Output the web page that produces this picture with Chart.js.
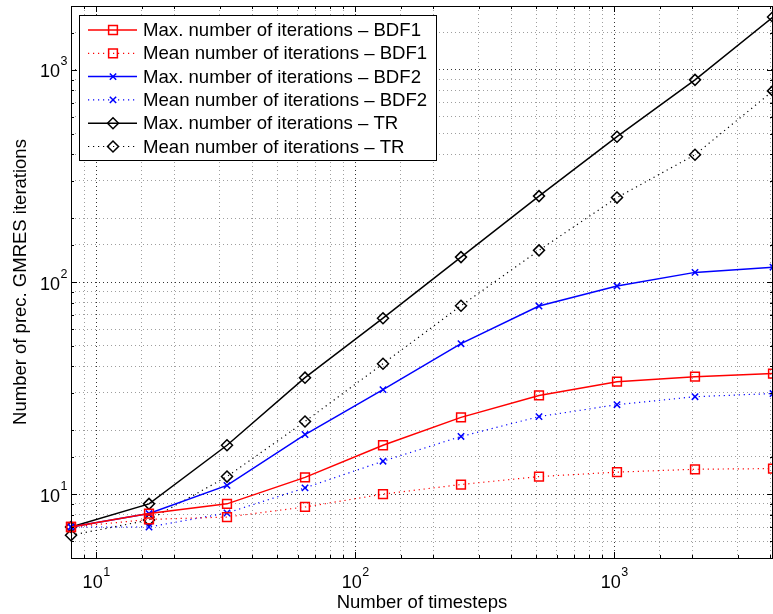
<!DOCTYPE html>
<html>
<head>
<meta charset="utf-8">
<script src="https://cdn.jsdelivr.net/npm/chart.js@4.4.0/dist/chart.umd.min.js"></script>
<style>
  html, body { margin: 0; padding: 0; background: #fff; }
  #wrap { width: 773px; height: 614px; position: relative; }
</style>
</head>
<body>
<div id="wrap"><canvas id="c"></canvas></div>
<script>
/* ── data ─────────────────────────────────────── */
const timesteps = [8, 16, 32, 64, 128, 256, 512, 1024, 2048, 4096];
const bdf1Max  = [7, 8.1, 9, 12, 17, 23, 29.2, 33.9, 35.8, 37];
const bdf1Mean = [7, 7.6, 7.8, 8.7, 10, 11.1, 12.1, 12.7, 13.1, 13.2];
const bdf2Max  = [7, 8.1, 11, 19.1, 31.1, 51.2, 77, 95.7, 111, 117.5];
const bdf2Mean = [7, 7, 8.15, 10.7, 14.3, 18.7, 23.2, 26.4, 28.8, 29.8];
const trMax    = [7, 9, 17, 35.4, 67.5, 131, 254, 484, 897, 1774];
const trMean   = [6.4, 7.55, 12.1, 22, 41.2, 77.3, 141, 250, 398, 796];

const seriesLabels = [
  'Max. number of iterations \u2013 BDF1',
  'Mean number of iterations \u2013 BDF1',
  'Max. number of iterations \u2013 BDF2',
  'Mean number of iterations \u2013 BDF2',
  'Max. number of iterations \u2013 TR',
  'Mean number of iterations \u2013 TR'
];
const tickBase = '10';
const xTitle = 'Number of timesteps';
const yTitle = 'Number of prec. GMRES iterations';

/* ── helpers ──────────────────────────────────── */
const FONT = '"Liberation Sans", Arial, Helvetica, sans-serif';
const isPow10 = v => Math.abs(Math.log10(v) - Math.round(Math.log10(v))) < 1e-9;
const pts = ys => timesteps.map((x, i) => ({ x, y: ys[i] }));

function series(label, ys, color, dotted, style, radius) {
  return {
    label, data: pts(ys),
    borderColor: color, backgroundColor: 'transparent',
    borderWidth: dotted ? 1.2 : 1.5, borderDash: dotted ? [1.2, 3.8] : [],
    showLine: true, tension: 0, clip: false,
    pointStyle: style, pointRadius: radius, pointHoverRadius: radius,
    pointBorderColor: color, pointBackgroundColor: 'transparent', pointBorderWidth: 1.5
  };
}

// "10" with a raised exponent; x = right end (y axis) or centre (x axis)
function powerLabel(ctx, exp, x, baseY, align) {
  ctx.font = '18px ' + FONT;
  const wBase = ctx.measureText(tickBase).width;
  ctx.font = '12.5px ' + FONT;
  const wExp = ctx.measureText(exp).width;
  const left = align === 'right' ? x - wBase - wExp : x - (wBase + wExp) / 2;
  ctx.textAlign = 'left';
  ctx.textBaseline = 'alphabetic';
  ctx.font = '18px ' + FONT;
  ctx.fillText(tickBase, left, baseY);
  ctx.font = '12.5px ' + FONT;
  ctx.fillText(exp, left + wBase + 0.5, baseY - 12);
}

/* inside ticks, full box and tick labels, like the matlab axes */
const boxPlugin = {
  id: 'box',
  afterDatasetsDraw(chart) {
    const { ctx, chartArea: a, scales: { x, y } } = chart;
    ctx.save();
    ctx.strokeStyle = '#000';
    ctx.lineWidth = 1;
    ctx.setLineDash([]);
    ctx.beginPath();
    x.ticks.forEach(t => {
      const px = Math.round(x.getPixelForValue(t.value)) + 0.5;
      const len = isPow10(t.value) ? 6 : 3;
      ctx.moveTo(px, a.bottom); ctx.lineTo(px, a.bottom - len);
      ctx.moveTo(px, a.top);    ctx.lineTo(px, a.top + len);
    });
    y.ticks.forEach(t => {
      const py = Math.round(y.getPixelForValue(t.value)) + 0.5;
      const len = isPow10(t.value) ? 6 : 3;
      ctx.moveTo(a.left, py);  ctx.lineTo(a.left + len, py);
      ctx.moveTo(a.right, py); ctx.lineTo(a.right - len, py);
    });
    ctx.stroke();
    ctx.strokeRect(Math.round(a.left) + 0.5, Math.round(a.top) + 0.5,
                   Math.round(a.right - a.left) - 1, Math.round(a.bottom - a.top));

    ctx.fillStyle = '#000';
    x.ticks.filter(t => isPow10(t.value)).forEach(t => {
      const exp = String(Math.round(Math.log10(t.value)));
      powerLabel(ctx, exp, x.getPixelForValue(t.value), a.bottom + 30, 'center');
    });
    y.ticks.filter(t => isPow10(t.value)).forEach(t => {
      const exp = String(Math.round(Math.log10(t.value)));
      powerLabel(ctx, exp, a.left - 4, y.getPixelForValue(t.value) + 7.5, 'right');
    });
    ctx.restore();
  }
};

/* legend box with line sample + marker */
const legendPlugin = {
  id: 'matLegend',
  afterDraw(chart) {
    const ctx = chart.ctx;
    const bx = 79.5, by = 15.5, bw = 357, bh = 145;
    ctx.save();
    ctx.fillStyle = '#fff';
    ctx.fillRect(bx, by, bw, bh);
    ctx.strokeStyle = '#000';
    ctx.lineWidth = 1;
    ctx.setLineDash([]);
    ctx.strokeRect(bx, by, bw, bh);
    chart.data.datasets.forEach((ds, i) => {
      const cy = 30 + i * 23.3;
      ctx.strokeStyle = ds.borderColor;
      ctx.lineWidth = ds.borderWidth;
      ctx.setLineDash(ds.borderDash);
      ctx.beginPath();
      ctx.moveTo(88, cy); ctx.lineTo(137, cy);
      ctx.stroke();
      ctx.setLineDash([]);
      ctx.fillStyle = 'rgba(0,0,0,0)';
      ctx.lineWidth = ds.pointBorderWidth;
      Chart.helpers.drawPoint(ctx, {
        pointStyle: ds.pointStyle, radius: ds.pointRadius, rotation: 0,
        borderWidth: ds.pointBorderWidth
      }, 113, cy);
      ctx.fillStyle = '#000';
      ctx.font = '18.6px ' + FONT;
      ctx.textBaseline = 'middle';
      ctx.textAlign = 'left';
      ctx.fillText(ds.label, 143, cy + 1);
    });
    ctx.restore();
  }
};

const gridColor = c => isPow10(c.tick.value) ? 'rgba(0,0,0,0.8)' : 'rgba(0,0,0,0.38)';

new Chart(document.getElementById('c'), {
  type: 'scatter',
  data: {
    datasets: [
      series(seriesLabels[0], bdf1Max,  '#ff0000', false, 'rect',     6.2),
      series(seriesLabels[1], bdf1Mean, '#ff0000', true,  'rect',     6.2),
      series(seriesLabels[2], bdf2Max,  '#0000ff', false, 'crossRot', 4.5),
      series(seriesLabels[3], bdf2Mean, '#0000ff', true,  'crossRot', 4.5),
      series(seriesLabels[4], trMax,    '#000000', false, 'rectRot',  5.5),
      series(seriesLabels[5], trMean,   '#000000', true,  'rectRot',  5.5)
    ]
  },
  options: {
    responsive: true, maintainAspectRatio: false, animation: false,
    layout: { autoPadding: false, padding: { top: 6, right: 0, left: 0, bottom: 0 } },
    plugins: { legend: { display: false }, tooltip: { enabled: false } },
    scales: {
      x: {
        type: 'logarithmic', min: 8, max: 4096,
        afterFit: s => { s.height = 56; },
        grid: { color: gridColor, drawTicks: false, lineWidth: 1 },
        border: { display: false, dash: [1, 3] },
        ticks: { display: false, autoSkip: false, maxRotation: 0 },
        title: { display: true, text: xTitle, color: '#000',
                 font: { family: FONT, size: 18.5 }, padding: { top: 0, bottom: 0 } }
      },
      y: {
        type: 'logarithmic', min: 5, max: 2000,
        afterFit: s => { s.width = 71; },
        grid: { color: gridColor, drawTicks: false, lineWidth: 1 },
        border: { display: false, dash: [1, 3] },
        ticks: { display: false, autoSkip: false },
        title: { display: true, text: yTitle, color: '#000',
                 font: { family: FONT, size: 18.5 }, padding: { top: 10, bottom: 0 } }
      }
    }
  },
  plugins: [boxPlugin, legendPlugin]
});
</script>
</body>
</html>
